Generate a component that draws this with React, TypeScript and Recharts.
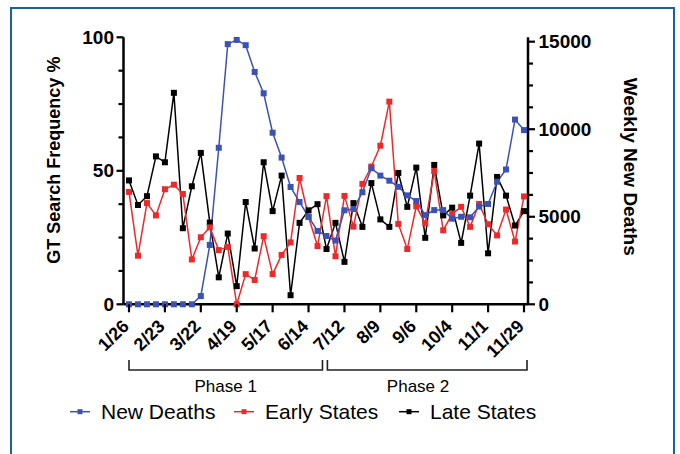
import { LineChart, Line, XAxis, YAxis } from 'recharts'

const FONT = '"Liberation Sans", Arial, Helvetica, sans-serif'

// weekly buckets, 2020
const weeks = [
  '1/26', '2/2', '2/9', '2/16', '2/23', '3/1', '3/8', '3/15', '3/22', '3/29', '4/5', '4/12',
  '4/19', '4/26', '5/3', '5/10', '5/17', '5/24', '5/31', '6/7', '6/14', '6/21', '6/28', '7/5',
  '7/12', '7/19', '7/26', '8/2', '8/9', '8/16', '8/23', '8/30', '9/6', '9/13', '9/20', '9/27',
  '10/4', '10/11', '10/18', '10/25', '11/1', '11/8', '11/15', '11/22', '11/29',
]

// weekly new deaths (right axis)
const newDeaths = [
  0, 0, 0, 0, 0, 0, 0, 0, 470, 3390, 8940, 14860,
  15100, 14800, 13270, 12050, 9800, 8380, 6700, 5840, 5000, 4190, 3900, 3640,
  5370, 5440, 6400, 7770, 7350, 7060, 6710, 6220, 5900, 5090, 5380, 5380,
  4890, 5000, 4970, 5580, 5730, 7000, 7700, 10550, 9950,
]

// GT search frequency % (left axis)
const earlyStates = [
  42.1, 18.2, 37.9, 33.3, 43.1, 44.8, 41.3, 16.8, 25.1, 28.8, 20.3, 21.5,
  0, 11.3, 9.1, 25.5, 11.3, 18.5, 23.2, 47.3, 32.7, 21.8, 40.5, 18.0,
  40.6, 29.1, 45.1, 51.6, 59.4, 75.9, 30.1, 20.7, 36.7, 30.3, 49.9, 27.7,
  33.9, 36.5, 29.0, 37.6, 30.0, 25.8, 35.5, 23.5, 40.4,
]

const lateStates = [
  46.4, 37.2, 40.5, 55.4, 53.2, 79.2, 28.5, 44.2, 56.7, 30.6, 10.1, 26.5,
  6.8, 38.3, 20.9, 53.2, 34.9, 48.2, 3.4, 30.5, 35.2, 37.5, 20.7, 30.5,
  15.9, 37.9, 29.0, 45.4, 31.8, 29.0, 49.2, 36.5, 51.2, 24.9, 52.2, 33.3,
  36.2, 23.0, 40.7, 60.2, 19.1, 47.7, 40.7, 29.5, 34.9,
]

const leftTicks = [0, 12.5, 25, 37.5, 50, 62.5, 75, 87.5, 100]
const leftLabels = [0, 50, 100]
const rightTicks = [0, 1250, 2500, 3750, 5000, 6250, 7500, 8750, 10000, 11250, 12500, 13750, 15000]
const rightLabels = [0, 5000, 10000, 15000]

const rows = weeks.map((week, i) => ({
  week,
  deaths: newDeaths[i],
  early: earlyStates[i],
  late: lateStates[i],
}))

const BLUE = '#3b52b4'
const RED = '#ec2a2c'
const BLACK = '#000'

// plot frame
const W = 680
const H = 454
const PLOT_LEFT = 123.5
const PLOT_RIGHT = 528
const PLOT_TOP = 37.3
const PLOT_BOTTOM = 304.3
const PAD_L = 5.5
const PAD_R = 4
const step = (PLOT_RIGHT - PAD_R - PLOT_LEFT - PAD_L) / (weeks.length - 1)
const xOf = (i: number) => PLOT_LEFT + PAD_L + i * step

const squareDot = (color: string) => (p: any) => (
  <rect key={`${color}-${p.index}`} x={p.cx - 3} y={p.cy - 3} width={6} height={6} fill={color} />
)

function LeftTick({ x, y, payload }: any) {
  const major = leftLabels.includes(payload.value)
  return (
    <g>
      <line x1={x - (major ? 7 : 5)} x2={x} y1={y} y2={y} stroke="#000" strokeWidth={2.2} />
      {major && (
        <text x={x - 9.5} y={y} dy="0.35em" textAnchor="end" fontSize={19} fontWeight="bold" fontFamily={FONT} fill="#000">
          {payload.value}
        </text>
      )}
    </g>
  )
}

function RightTick({ x, y, payload }: any) {
  const major = rightLabels.includes(payload.value)
  return (
    <g>
      <line x1={x} x2={x + (major ? 7 : 5)} y1={y} y2={y} stroke="#000" strokeWidth={2.2} />
      {major && (
        <text x={x + 10.5} y={y} dy="0.35em" textAnchor="start" fontSize={19} fontWeight="bold" fontFamily={FONT} fill="#000">
          {payload.value}
        </text>
      )}
    </g>
  )
}

function WeekTick({ x, y, payload }: any) {
  const tx = x + 1
  const ty = y + 23
  return (
    <g>
      <line x1={x} x2={x} y1={y} y2={y + 8} stroke="#000" strokeWidth={2.2} />
      <text
        x={tx}
        y={ty}
        textAnchor="end"
        transform={`rotate(-45 ${tx} ${ty})`}
        fontSize={18}
        fontWeight="bold"
        fontFamily={FONT}
        fill="#000"
      >
        {payload.value}
      </text>
    </g>
  )
}

const legendItems = [
  { label: 'New Deaths', color: BLUE, x: 70 },
  { label: 'Early States', color: RED, x: 234 },
  { label: 'Late States', color: BLACK, x: 399 },
]

export default function App() {
  const legendY = 411.7
  return (
    <div style={{ position: 'absolute', left: 0, top: 0, width: W, height: H, background: '#fff', overflow: 'hidden', fontFamily: FONT }}>
      <div
        style={{
          position: 'absolute',
          left: 10,
          top: 7,
          width: 664.5,
          height: 470,
          border: '2.4px solid #1f6096',
          boxSizing: 'border-box',
        }}
      />
      <div style={{ position: 'absolute', left: 0, top: 0 }}>
        <LineChart width={W} height={H} data={rows} margin={{ top: PLOT_TOP, right: 0, bottom: 0, left: 0 }}>
          <XAxis
            dataKey="week"
            interval={3}
            height={H - PLOT_BOTTOM}
            padding={{ left: PAD_L, right: PAD_R }}
            axisLine={{ stroke: '#000', strokeWidth: 2.5 }}
            tickLine={false}
            tickSize={0}
            tickMargin={0}
            tick={(p: any) => <WeekTick {...p} />}
          />
          <YAxis
            yAxisId="left"
            width={PLOT_LEFT}
            domain={[0, 100]}
            ticks={leftTicks}
            interval={0}
            axisLine={{ stroke: '#000', strokeWidth: 2.5 }}
            tickLine={false}
            tickSize={0}
            tickMargin={0}
            tick={(p: any) => <LeftTick {...p} />}
          />
          <YAxis
            yAxisId="right"
            orientation="right"
            width={W - PLOT_RIGHT}
            domain={[0, 15250]}
            ticks={rightTicks}
            interval={0}
            axisLine={{ stroke: '#000', strokeWidth: 2.5 }}
            tickLine={false}
            tickSize={0}
            tickMargin={0}
            tick={(p: any) => <RightTick {...p} />}
          />
          <Line
            yAxisId="left"
            dataKey="late"
            type="linear"
            stroke={BLACK}
            strokeWidth={1.5}
            dot={squareDot(BLACK)}
            activeDot={false}
            isAnimationActive={false}
          />
          <Line
            yAxisId="left"
            dataKey="early"
            type="linear"
            stroke={RED}
            strokeWidth={1.5}
            dot={squareDot(RED)}
            activeDot={false}
            isAnimationActive={false}
          />
          <Line
            yAxisId="right"
            dataKey="deaths"
            type="linear"
            stroke={BLUE}
            strokeWidth={1.5}
            dot={squareDot(BLUE)}
            activeDot={false}
            isAnimationActive={false}
          />
        </LineChart>
      </div>
      <svg width={W} height={H} style={{ position: 'absolute', left: 0, top: 0, pointerEvents: 'none' }}>
        <text
          transform={`translate(60 ${(PLOT_TOP + 283) / 2}) rotate(-90)`}
          textAnchor="middle"
          fontSize={18}
          fontWeight="bold"
          fontFamily={FONT}
        >
          GT Search Frequency %
        </text>
        <text
          transform="translate(624 166.7) rotate(90)"
          textAnchor="middle"
          fontSize={19}
          fontWeight="bold"
          fontFamily={FONT}
        >
          Weekly New Deaths
        </text>

        <path
          d={`M${xOf(0)},360 V370 H${xOf(21.55)} V360`}
          fill="none"
          stroke="#222"
          strokeWidth={1.6}
        />
        <path
          d={`M${xOf(22.1)},360 V370 H${PLOT_RIGHT - 1} V360`}
          fill="none"
          stroke="#222"
          strokeWidth={1.6}
        />
        <text x={(xOf(0) + xOf(21.55)) / 2} y={392} textAnchor="middle" fontSize={17} fontFamily={FONT}>
          Phase 1
        </text>
        <text x={xOf(32.2)} y={392} textAnchor="middle" fontSize={17} fontFamily={FONT}>
          Phase 2
        </text>

        {legendItems.map((it) => (
          <g key={it.label}>
            <line x1={it.x} x2={it.x + 20} y1={legendY} y2={legendY} stroke={it.color} strokeWidth={1.5} />
            <rect x={it.x + 7.5} y={legendY - 2.5} width={5} height={5} fill={it.color} />
            <text x={it.x + 31} y={legendY + 7} fontSize={21} fontFamily={FONT} fill="#000">
              {it.label}
            </text>
          </g>
        ))}
      </svg>
    </div>
  )
}
